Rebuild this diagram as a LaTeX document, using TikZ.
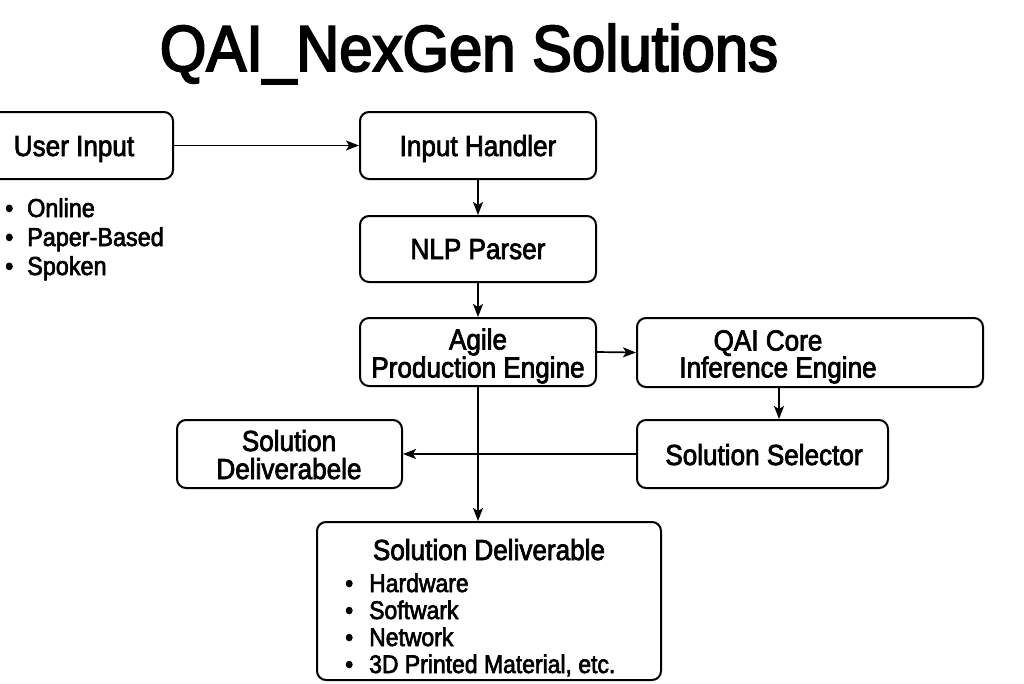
\documentclass[tikz,border=0pt]{standalone}
\usepackage{fontspec}
\setmainfont{Liberation Sans}
\newfontfamily\labfont[FakeStretch=0.9,FakeBold=2.5]{Liberation Sans}
\newfontfamily\titfont[FakeStretch=0.92,FakeBold=3]{Liberation Sans}
\usetikzlibrary{arrows.meta}
\newcommand{\bl}[2]{\makebox[#1][l]{•}#2}
\tikzset{
  box/.style={draw, line width=2pt, rounded corners=9pt, inner sep=0pt, fill=white},
  lbl/.style={anchor=base, inner sep=0pt, font=\labfont\fontsize{29}{33}\selectfont},
  top/.style={text depth=0pt},
  item/.style={anchor=base west, inner sep=0pt},
  arr/.style={line width=1.7pt, -{Stealth[length=13pt,width=10pt,inset=3pt]}}
}
\begin{document}
\begin{tikzpicture}[x=1pt,y=-1pt]
\useasboundingbox (0,0) rectangle (1024,683);
\clip (0,0) rectangle (1024,683);
% title
\node[anchor=base, inner sep=0pt, font=\titfont\fontsize{65}{70}\selectfont] (title) at (469,71) {QAI\_NexGen Solutions};
% boxes
\node[box, minimum width=185pt, minimum height=67pt] (ui)  at (80.5,145.5) {};
\node[box, minimum width=236pt, minimum height=67pt] (ih)  at (478,145.5) {};
\node[box, minimum width=236pt, minimum height=66pt] (nlp) at (478,249) {};
\node[box, minimum width=236pt, minimum height=68pt] (ape) at (478,352) {};
\node[box, minimum width=346pt, minimum height=69pt] (qai) at (810,352.5) {};
\node[box, minimum width=251pt, minimum height=68pt] (sel) at (762.5,454) {};
\node[box, minimum width=225pt, minimum height=68pt] (sdl) at (289.5,454) {};
\node[box, minimum width=344pt, minimum height=158pt] (sdb) at (489,601) {};
% labels
\node[lbl] (tui)  at (74,156) {User Input};
\node[lbl] (tih)  at (478,156) {Input Handler};
\node[lbl] (tnlp) at (478,259) {NLP Parser};
\node[lbl, top] (tape1) at (478,349.5) {Agile};
\node[lbl] (tape2) at (478,377.5) {Production Engine};
\node[lbl, top] (tqai1) at (768,350.5) {QAI Core};
\node[lbl] (tqai2) at (778,377.5) {Inference Engine};
\node[lbl] (tsel) at (764,465) {Solution Selector};
\node[lbl, top] (tsdl1) at (289,451) {Solution};
\node[lbl] (tsdl2) at (289,479) {Deliverabele};
\node[lbl] (tsdb) at (489,560) {Solution Deliverable};
% user input list
\begin{scope}[every node/.style={item, font=\labfont\fontsize{26}{30}\selectfont}]
\node (u1) at (5,217) {\bl{22pt}{Online}};
\node (u2) at (5,246) {\bl{22pt}{Paper-Based}};
\node (u3) at (5,275) {\bl{22pt}{Spoken}};
\end{scope}
% deliverable list
\begin{scope}[every node/.style={item, font=\labfont\fontsize{25.5}{29}\selectfont}]
\node (d1) at (345,592) {\bl{24pt}{Hardware}};
\node (d2) at (345,619) {\bl{24pt}{Softwark}};
\node (d3) at (345,646) {\bl{24pt}{Network}};
\node (d4) at (345,673) {\bl{24pt}{3D Printed Material, etc.}};
\end{scope}
% connectors
\coordinate (qx) at (779,0);
\draw[arr] (ui.east) -- (ih.west);
\draw[arr] (ih.south) -- (nlp.north);
\draw[arr] (nlp.south) -- (ape.north);
\draw[arr] (ape.east) -- (qai.west);
\draw[arr] (qai.south -| qx) -- (sel.north -| qx);
\draw[arr] (sel.west) -- (sdl.east);
\draw[arr] (ape.south) -- (ape.south |- sdb.north);
\end{tikzpicture}
\end{document}
